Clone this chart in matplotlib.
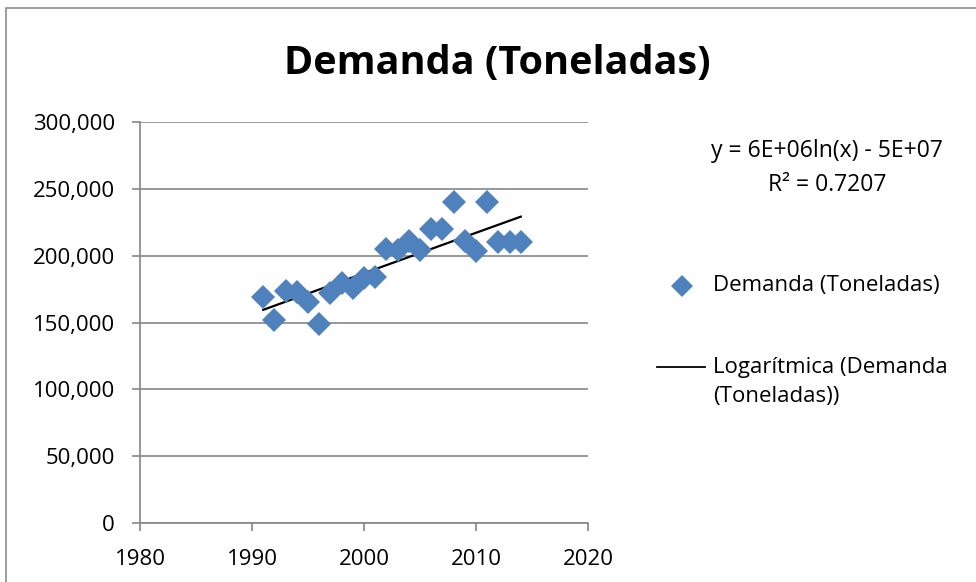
import numpy as np
import matplotlib
matplotlib.use("Agg")
import matplotlib.pyplot as plt
from matplotlib.lines import Line2D
from matplotlib.patches import Rectangle
from matplotlib.ticker import FuncFormatter

# data
years = [1991, 1992, 1993, 1994, 1995, 1996, 1997, 1998, 1999, 2000, 2001, 2002,
         2003, 2004, 2005, 2006, 2007, 2008, 2009, 2010, 2011, 2012, 2013, 2014]
demanda = [169400, 151500, 173900, 172600, 165700, 149000, 171900, 179300, 175900,
           183400, 184300, 205000, 204500, 210700, 204200, 219900, 219900, 240300,
           210700, 203200, 239800, 209900, 209900, 210400]

title = "Demanda (Toneladas)"
eq_text = "y = 6E+06ln(x) - 5E+07\nR\u00b2 = 0.7207"
lbl_points = "Demanda (Toneladas)"
lbl_trend = "Logarítmica (Demanda\n(Toneladas))"

W, H = 976, 582
plt.rcParams['font.family'] = ['Open Sans', 'DejaVu Sans']
fig = plt.figure(figsize=(W / 100, H / 100), dpi=100)

# chart frame like excel
fig.add_artist(Rectangle((6 / W, -0.01), 1.0, 1 - 8 / H + 0.01, transform=fig.transFigure,
                         fill=False, edgecolor='#8c8c8c', lw=1.2))

ax = fig.add_axes([140 / W, 1 - 523 / H, (588 - 140) / W, (523 - 122) / H])

x = np.array(years, dtype=float)
y = np.array(demanda, dtype=float)

# log trendline (least squares on ln x)
b, a = np.polyfit(np.log(x), y, 1)
xt = np.linspace(x.min(), x.max(), 100)
ax.plot(xt, a + b * np.log(xt), color='black', lw=1.6, zorder=2)
ax.plot(x, y, 'D', color='#4f81bd', ms=12.5, mew=0, zorder=3)

ax.set_xlim(1980, 2020)
ax.set_ylim(0, 300000)
ax.set_xticks([1980, 1990, 2000, 2010, 2020])
ax.set_yticks(np.arange(0, 300001, 50000))
ax.yaxis.set_major_formatter(FuncFormatter(lambda v, p: f"{int(v):,}"))
ax.grid(axis='y', color='#868686', lw=1.2)
ax.set_axisbelow(True)
for s in ['top', 'right']:
    ax.spines[s].set_visible(False)
for s in ['left', 'bottom']:
    ax.spines[s].set_color('#868686')
    ax.spines[s].set_linewidth(1.2)
ax.tick_params(axis='both', direction='out', length=6, width=1.2, color='#868686',
               labelsize=16, labelcolor='black')
ax.tick_params(axis='x', pad=13)
ax.tick_params(axis='y', pad=12)

fig.text(497 / W, 1 - 63 / H, title, ha='center', va='center', fontsize=28.5,
         fontweight='bold')

fig.text(827 / W, 1 - 168 / H, eq_text, ha='center', va='center', fontsize=16.5,
         linespacing=1.55)

# legend
fig.add_artist(Line2D([682 / W], [1 - 286 / H], marker='D', color='#4f81bd', ms=11,
                      mew=0, transform=fig.transFigure))
fig.text(713 / W, 1 - 286 / H, lbl_points, ha='left', va='center', fontsize=16)
fig.add_artist(Line2D([657 / W, 705 / W], [1 - 367 / H, 1 - 367 / H], color='black',
                      lw=1.3, transform=fig.transFigure))
fig.text(713 / W, 1 - 382 / H, lbl_trend, ha='left', va='center', fontsize=16,
         linespacing=1.55)

fig.savefig("out.png", dpi=100)
